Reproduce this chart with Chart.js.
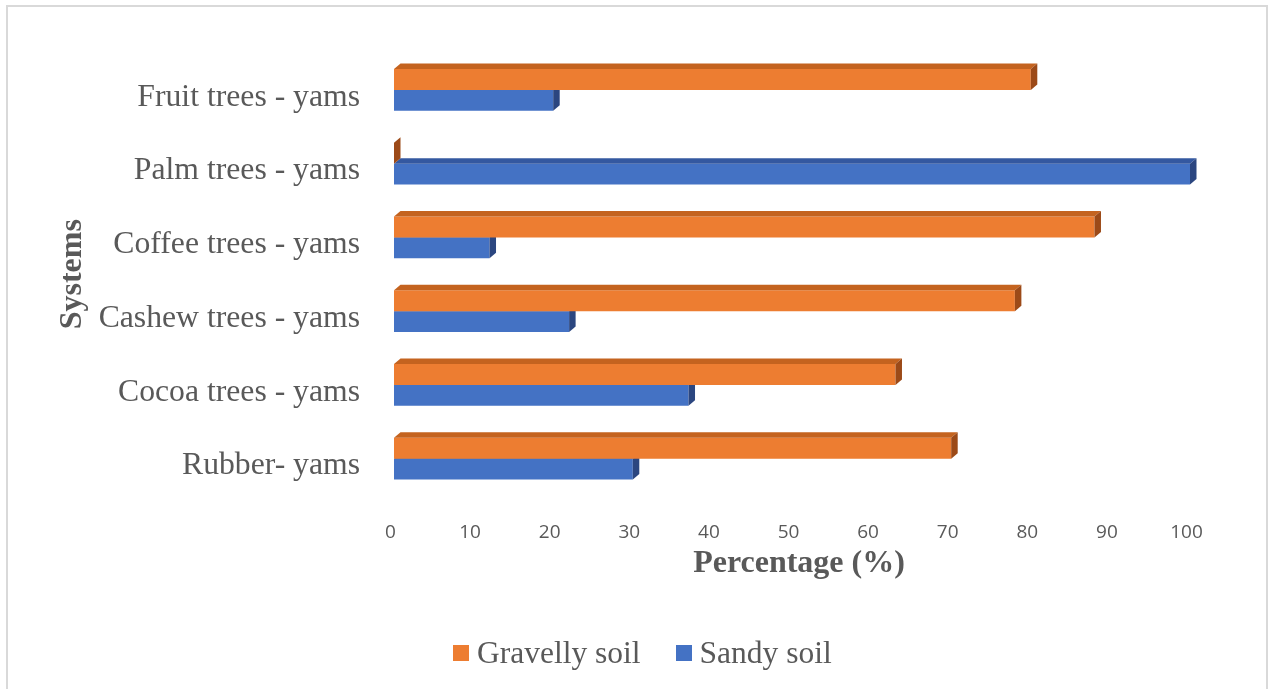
<!DOCTYPE html>
<html>
<head>
<meta charset="utf-8">
<title>Systems by soil type</title>
<script src="https://cdn.jsdelivr.net/npm/chart.js@4.4.1/dist/chart.umd.min.js"></script>
<style>
  html, body { margin: 0; padding: 0; background: #ffffff; }
  #wrap { position: absolute; left: 0; top: 0; width: 1268px; height: 689px; overflow: hidden; }
  #frame { position: absolute; left: 6px; top: 5px; width: 1262px; height: 700px;
           border: 2px solid #d9d9d9; box-sizing: border-box; }
  #chart { position: absolute; left: 0; top: 0; }
  #legend { position: absolute; left: 453px; top: 635px; display: flex; align-items: center;
            font-family: 'Liberation Serif', 'Times New Roman', serif; font-size: 31.5px;
            line-height: 36px; color: #595959; white-space: nowrap; }
  #legend .item { display: flex; align-items: center; margin-right: 35px; }
  #legend .sw { width: 16px; height: 16px; margin-right: 8px; }
</style>
</head>
<body>
<div id="wrap">
  <div id="frame"></div>
  <canvas id="chart" width="1268" height="689"></canvas>
  <div id="legend"></div>
</div>
<script>
// Cropping systems (top to bottom) and share of each soil type, in percent
const categories = [
  'Fruit trees - yams',
  'Palm trees - yams',
  'Coffee trees - yams',
  'Cashew trees - yams',
  'Cocoa trees - yams',
  'Rubber- yams'
];
const gravellySoil = [80, 0, 88, 78, 63, 70];
const sandySoil    = [20, 100, 12, 22, 37, 30];
const xTickValues  = [0, 10, 20, 30, 40, 50, 60, 70, 80, 90, 100];

const seriesNames = ['Gravelly soil', 'Sandy soil'];
const xAxisTitle = 'Percentage (%)';
const yAxisTitle = 'Systems';

// Face colours for the extruded bars: front, top, right side
const faces = [
  { front: '#ED7D31', top: '#C4631F', side: '#9C4A18' },
  { front: '#4472C4', top: '#3458A0', side: '#2B4680' }
];

const DEPTH_X = 6.5;
const DEPTH_Y = 5.5;

const textGrey = '#595959';
const serif = "'Liberation Serif', 'Times New Roman', serif";

// Adds a top and a right-hand face to each bar so the bars look like blocks
const blockBars = {
  id: 'blockBars',
  afterDatasetDraw(chart, args) {
    const ctx = chart.ctx;
    const c = faces[args.index];
    ctx.save();
    args.meta.data.forEach(bar => {
      const p = bar.getProps(['x', 'y', 'base', 'height'], true);
      const top = p.y - p.height / 2;
      const bottom = p.y + p.height / 2;
      const left = Math.min(p.base, p.x);
      const right = Math.max(p.base, p.x);

      ctx.fillStyle = c.top;
      ctx.beginPath();
      ctx.moveTo(left, top);
      ctx.lineTo(left + DEPTH_X, top - DEPTH_Y);
      ctx.lineTo(right + DEPTH_X, top - DEPTH_Y);
      ctx.lineTo(right, top);
      ctx.closePath();
      ctx.fill();

      ctx.fillStyle = c.side;
      ctx.beginPath();
      ctx.moveTo(right, top);
      ctx.lineTo(right + DEPTH_X, top - DEPTH_Y);
      ctx.lineTo(right + DEPTH_X, bottom - DEPTH_Y);
      ctx.lineTo(right, bottom);
      ctx.closePath();
      ctx.fill();
    });
    ctx.restore();
  }
};

// Horizontal axis title, centred a little right of the plot centre
const xTitle = {
  id: 'xTitle',
  afterDraw(chart) {
    const ctx = chart.ctx;
    const a = chart.chartArea;
    ctx.save();
    ctx.fillStyle = textGrey;
    ctx.font = "bold 32px " + serif;
    ctx.textAlign = 'center';
    ctx.textBaseline = 'middle';
    ctx.fillText(xAxisTitle, (a.left + a.right) / 2 + 7, a.bottom + 68);
    ctx.restore();
  }
};

const chart = new Chart(document.getElementById('chart'), {
  type: 'bar',
  data: {
    labels: categories,
    datasets: [
      { label: seriesNames[0], data: gravellySoil, backgroundColor: faces[0].front, borderWidth: 0 },
      { label: seriesNames[1], data: sandySoil, backgroundColor: faces[1].front, borderWidth: 0 }
    ]
  },
  options: {
    indexAxis: 'y',
    responsive: false,
    animation: false,
    devicePixelRatio: 1,
    categoryPercentage: 0.566,
    barPercentage: 1.0,
    layout: { padding: { left: 0, top: 50, right: 78, bottom: 93.5 } },
    plugins: {
      legend: { display: false },
      tooltip: { enabled: false }
    },
    scales: {
      x: {
        min: 0,
        max: 100,
        afterBuildTicks(axis) { axis.ticks = xTickValues.map(v => ({ value: v })); },
        afterFit(axis) { axis.height = 100; },
        grid: { display: false, drawTicks: false },
        border: { display: false },
        ticks: {
          color: textGrey,
          font: { family: "'Open Sans', sans-serif", size: 19 },
          padding: 26,
          labelOffset: -3.5,
          maxRotation: 0
        },
        title: { display: false }
      },
      y: {
        afterFit(axis) { axis.width = 394; },
        grid: { display: false, drawTicks: false },
        border: { display: false },
        ticks: {
          color: textGrey,
          font: { family: serif, size: 31.7 },
          padding: 34,
          labelOffset: 7.5
        },
        title: {
          display: true,
          text: yAxisTitle,
          color: textGrey,
          font: { family: serif, size: 32, weight: 'bold' },
          padding: { top: 54, bottom: 0 }
        }
      }
    }
  },
  plugins: [blockBars, xTitle]
});

// Legend built from the chart's own datasets
const legend = document.getElementById('legend');
chart.data.datasets.forEach(ds => {
  const item = document.createElement('div');
  item.className = 'item';
  const sw = document.createElement('span');
  sw.className = 'sw';
  sw.style.background = ds.backgroundColor;
  const label = document.createElement('span');
  label.textContent = ds.label;
  item.appendChild(sw);
  item.appendChild(label);
  legend.appendChild(item);
});
</script>
</body>
</html>
